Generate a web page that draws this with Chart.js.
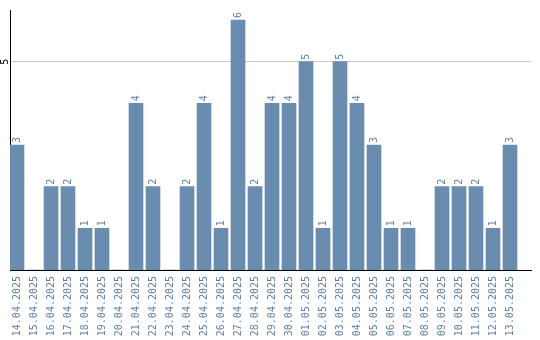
<!DOCTYPE html>
<html>
<head>
<meta charset="utf-8">
<script src="https://cdn.jsdelivr.net/npm/chart.js@4/dist/chart.umd.min.js"></script>
<style>
html,body{margin:0;padding:0;background:#fff;}
#wrap{width:540px;height:340px;position:relative;}
</style>
</head>
<body>
<div id="wrap"><canvas id="c" width="540" height="340"></canvas></div>
<script>
const categories = ["14.04.2025","15.04.2025","16.04.2025","17.04.2025","18.04.2025","19.04.2025","20.04.2025","21.04.2025","22.04.2025","23.04.2025","24.04.2025","25.04.2025","26.04.2025","27.04.2025","28.04.2025","29.04.2025","30.04.2025","01.05.2025","02.05.2025","03.05.2025","04.05.2025","05.05.2025","06.05.2025","07.05.2025","08.05.2025","09.05.2025","10.05.2025","11.05.2025","12.05.2025","13.05.2025"];
const values = [3,0,2,2,1,1,0,4,2,0,2,4,1,6,2,4,4,5,1,5,4,3,1,1,0,2,2,2,1,3];
const yTicks = [5];

const FONT = "'DejaVu Sans Mono', monospace";
const BAR = '#6a8caf';
const TXT = '#5f80a3';

const labelPlugin = {
  id: 'valLabels',
  afterDatasetsDraw(chart) {
    const ctx = chart.ctx;
    const meta = chart.getDatasetMeta(0);
    ctx.save();
    ctx.font = '10px ' + FONT;
    ctx.fillStyle = TXT;
    ctx.textAlign = 'left';
    ctx.textBaseline = 'middle';
    meta.data.forEach((el, i) => {
      const v = values[i];
      if (!v) return;
      ctx.save();
      ctx.translate(el.x, el.y - 2);
      ctx.rotate(-Math.PI / 2);
      ctx.fillText(String(v), 0, 0);
      ctx.restore();
    });
    const ys = chart.scales.y;
    ctx.fillStyle = '#000';
    ctx.textAlign = 'center';
    yTicks.forEach(t => {
      ctx.save();
      ctx.translate(5, ys.getPixelForValue(t));
      ctx.rotate(-Math.PI / 2);
      ctx.fillText(String(t), 0, 0);
      ctx.restore();
    });
    ctx.restore();
  }
};

new Chart(document.getElementById('c'), {
  type: 'bar',
  data: {
    datasets: [{
      data: values.map((v, i) => ({x: i, y: v})),
      backgroundColor: BAR,
      borderWidth: 0,
      barThickness: 14
    }]
  },
  options: {
    responsive: false,
    animation: false,
    layout: { padding: { left: 10, top: 10, right: 9, bottom: 0 } },
    plugins: { legend: { display: false }, tooltip: { enabled: false } },
    scales: {
      x: {
        type: 'linear',
        min: -7/17,
        max: -7/17 + 521/17,
        offset: false,
        afterBuildTicks: (axis) => { axis.ticks = categories.map((_, i) => ({value: i})); },
        afterFit: (axis) => { axis.height = 70; },
        ticks: {
          autoSkip: false,
          minRotation: 90,
          maxRotation: 90,
          padding: 6,
          color: TXT,
          font: { family: FONT, size: 10 },
          callback: (v) => categories[v]
        },
        grid: { display: false, drawTicks: false },
        border: { display: true, color: '#000', width: 1 }
      },
      y: {
        min: 0,
        max: 6.24,
        afterBuildTicks: (axis) => { axis.ticks = yTicks.map(v => ({value: v})); },
        ticks: { display: false },
        grid: { color: '#c8c8c8', drawTicks: false },
        border: { display: true, color: '#000', width: 1 }
      }
    }
  },
  plugins: [labelPlugin]
});
</script>
</body>
</html>
